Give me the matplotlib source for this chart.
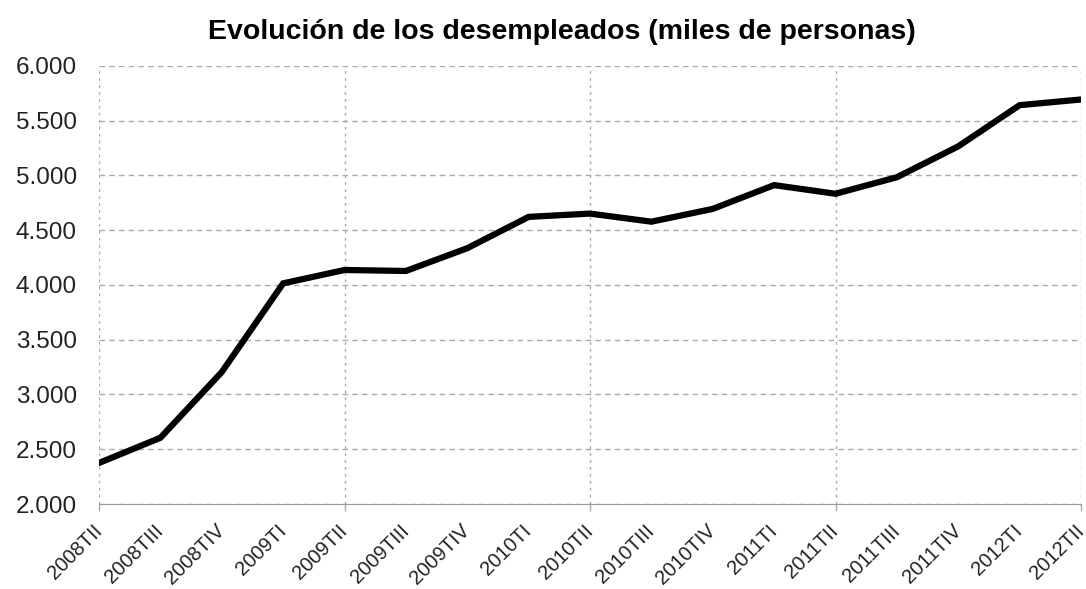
import matplotlib.pyplot as plt

# datos: desempleados (miles de personas), por trimestre
trimestres = ['2008TII', '2008TIII', '2008TIV', '2009TI', '2009TII', '2009TIII',
              '2009TIV', '2010TI', '2010TII', '2010TIII', '2010TIV', '2011TI',
              '2011TII', '2011TIII', '2011TIV', '2012TI', '2012TII']
desempleados = [2375, 2605, 3205, 4015, 4137, 4128, 4336, 4622, 4652, 4578,
                4695, 4912, 4833, 4984, 5266, 5642, 5694]
y_ticks = [2000, 2500, 3000, 3500, 4000, 4500, 5000, 5500, 6000]
y_labels = ['2.000', '2.500', '3.000', '3.500', '4.000', '4.500', '5.000', '5.500', '6.000']

plt.rcParams['font.family'] = ['Liberation Sans', 'DejaVu Sans']

fig = plt.figure(figsize=(10.86, 5.89), dpi=100)
ax = fig.add_axes([0.0912, 0.1443, 0.9042, 0.7437])

x = list(range(len(trimestres)))
ax.plot(x, desempleados, color='black', linewidth=4.5, solid_joinstyle='miter', zorder=3)

ax.set_xlim(0, len(trimestres) - 1)
ax.set_ylim(2000, 6000)
ax.set_yticks(y_ticks)
ax.set_yticklabels(y_labels, fontsize=17.5, color='#222222')
ax.set_xticks(x)
ax.set_xticklabels(trimestres, rotation=45, ha='right', va='center', rotation_mode='anchor',
                   fontsize=14.5, color='#222222')
ax.tick_params(axis='y', length=0, pad=16)
ax.tick_params(axis='x', which='major', length=0, pad=17)

# marcas y rejilla vertical cada 4 trimestres
ax.xaxis.remove_overlapping_locs = False
ax.set_xticks(x[::4], minor=True)
ax.tick_params(axis='x', which='minor', length=5, color='#aaaaaa', width=1)
ax.grid(axis='y', which='major', linestyle=(0, (4, 3)), color='#aaaaaa', linewidth=1)
ax.grid(axis='x', which='minor', linestyle=(0, (2, 3)), color='#aaaaaa', linewidth=1)
ax.grid(axis='x', which='major', visible=False)

for s in ['top', 'left', 'right']:
    ax.spines[s].set_visible(False)
ax.spines['bottom'].set_color('#999999')

fig.text(0.517, 0.946, 'Evolución de los desempleados (miles de personas)', fontsize=20.5,
         fontweight='bold', ha='center', va='center')

fig.savefig('out.png', dpi=100)
